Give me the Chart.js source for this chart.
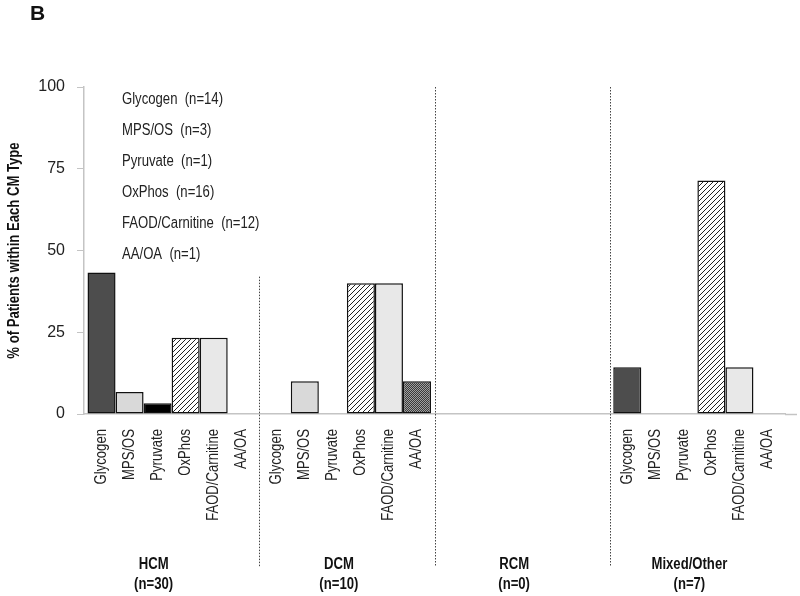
<!DOCTYPE html>
<html>
<head>
<meta charset="utf-8">
<script src="https://cdn.jsdelivr.net/npm/chart.js@4.4.1/dist/chart.umd.min.js"></script>
<style>
  html, body { margin: 0; padding: 0; background: #fff; }
</style>
</head>
<body>
<canvas id="cmChart" width="800" height="596"></canvas>
<script>
// CM types along the x axis and patients in each
const groups = ['HCM', 'DCM', 'RCM', 'Mixed/Other'];
const groupCounts = [30, 10, 0, 7];

// defect classes (one bar each per CM type)
const defects = ['Glycogen', 'MPS/OS', 'Pyruvate', 'OxPhos', 'FAOD/Carnitine', 'AA/OA'];
const defectCounts = [14, 3, 1, 16, 12, 1];

// % of patients within each CM type
const glycogen = [43.3, 0, 0, 14.3];
const mpsOs = [6.7, 10, 0, 0];
const pyruvate = [3.3, 0, 0, 0];
const oxPhos = [23.3, 40, 0, 71.4];
const faodCarnitine = [23.3, 40, 0, 14.3];
const aaOa = [0, 10, 0, 0];

const yTicks = [0, 25, 50, 75, 100];
const yTitle = '% of Patients within Each CM Type';

const FONT = "'Liberation Sans', Arial, sans-serif";
const NARROW = 0.82;   // no narrow face installed, squeeze the text instead

let canvas = document.getElementById('cmChart');
let ctx = canvas.getContext('2d');

function hatchPattern() {
    let c = document.createElement('canvas');
    c.width = 5; c.height = 5;
    let g = c.getContext('2d');
    g.fillStyle = '#fff';
    g.fillRect(0, 0, 5, 5);
    g.strokeStyle = '#222';
    g.lineWidth = 1;
    g.beginPath();
    g.moveTo(0, 5); g.lineTo(5, 0);
    g.moveTo(-1, 1); g.lineTo(1, -1);
    g.moveTo(4, 6); g.lineTo(6, 4);
    g.stroke();
    return ctx.createPattern(c, 'repeat');
}

function ditherPattern() {
    let c = document.createElement('canvas');
    c.width = 2; c.height = 2;
    let g = c.getContext('2d');
    g.fillStyle = '#3a3a3a';
    g.fillRect(0, 0, 2, 2);
    g.fillStyle = '#a0a0a0';
    g.fillRect(0, 0, 1, 1);
    g.fillRect(1, 1, 1, 1);
    return ctx.createPattern(c, 'repeat');
}

const fills = ['#4d4d4d', '#d9d9d9', '#000000', hatchPattern(), '#e8e8e8', ditherPattern()];
const series = [glycogen, mpsOs, pyruvate, oxPhos, faodCarnitine, aaOa];

let datasets = series.map((values, i) => ({
    label: defects[i],
    data: values,
    backgroundColor: fills[i],
    borderColor: '#111',
    borderWidth: 1.5,
    borderSkipped: false,
    categoryPercentage: 0.96,
    barPercentage: 1.0
}));

// squeezed text, optionally rotated
function narrowText(c, text, x, y, angle) {
    c.save();
    c.translate(x, y);
    if (angle) c.rotate(angle);
    c.scale(NARROW, 1);
    c.fillText(text, 0, 0);
    c.restore();
}

// text, separators and the per-bar labels drawn on top of the chart
const annotations = {
    id: 'annotations',
    afterDraw(chart) {
        const c = chart.ctx;
        const area = chart.chartArea;
        const x = chart.scales.x;
        const y = chart.scales.y;
        c.save();

        // panel letter
        c.fillStyle = '#111';
        c.font = 'bold 21px ' + FONT;
        c.textAlign = 'left';
        c.textBaseline = 'alphabetic';
        c.fillText('B', 30, 20);

        // y axis title
        c.font = 'bold 16px ' + FONT;
        c.textAlign = 'center';
        c.textBaseline = 'middle';
        narrowText(c, yTitle, 15, (area.top + area.bottom) / 2, -Math.PI / 2);

        // x axis line runs a bit past the last group
        c.strokeStyle = '#c4c4c4';
        c.lineWidth = 1.5;
        c.beginPath();
        c.moveTo(area.right, area.bottom + 0.5);
        c.lineTo(area.right + 12, area.bottom + 0.5);
        c.stroke();

        // list of defect classes with their totals
        c.font = '16px ' + FONT;
        c.fillStyle = '#222';
        c.textAlign = 'left';
        c.textBaseline = 'middle';
        defects.forEach((d, i) => {
            narrowText(c, d + '  (n=' + defectCounts[i] + ')', area.left + 38, area.top + 13 + i * 31);
        });

        // dotted separators between CM types
        c.strokeStyle = '#444';
        c.lineWidth = 1;
        c.setLineDash([1.5, 1.5]);
        for (let i = 0; i < groups.length - 1; i++) {
            let sx = Math.round((x.getPixelForValue(i) + x.getPixelForValue(i + 1)) / 2) + 0.5;
            let top = i === 0 ? y.getPixelForValue(42) : y.getPixelForValue(100);
            c.beginPath();
            c.moveTo(sx, top);
            c.lineTo(sx, 567);
            c.stroke();
        }
        c.setLineDash([]);

        // rotated defect labels under each bar
        c.font = '16px ' + FONT;
        c.fillStyle = '#222';
        c.textAlign = 'right';
        c.textBaseline = 'middle';
        for (let d = 0; d < defects.length; d++) {
            let meta = chart.getDatasetMeta(d);
            meta.data.forEach((bar, g) => {
                if (groupCounts[g] === 0) return;
                narrowText(c, defects[d], bar.x, area.bottom + 15, -Math.PI / 2);
            });
        }

        // CM type names
        c.font = 'bold 16px ' + FONT;
        c.fillStyle = '#111';
        c.textAlign = 'center';
        groups.forEach((g, i) => {
            let gx = x.getPixelForValue(i) - (i === 0 ? 18 : 8);
            narrowText(c, g, gx, 565);
            narrowText(c, '(n=' + groupCounts[i] + ')', gx, 585);
        });

        c.restore();
    }
};

let chart = new Chart(ctx, {
    type: 'bar',
    data: {
        labels: groups,
        datasets: datasets
    },
    options: {
        responsive: false,
        animation: false,
        devicePixelRatio: 1,
        layout: {
            padding: { top: 87, right: 15, left: 0, bottom: 0 }
        },
        plugins: {
            legend: { display: false },
            tooltip: { enabled: false }
        },
        scales: {
            x: {
                grid: { display: false },
                ticks: { display: false },
                border: { color: '#c4c4c4', width: 1.5 },
                afterFit: s => { s.height = 182; }
            },
            y: {
                min: 0,
                max: 100,
                afterBuildTicks: s => { s.ticks = yTicks.map(v => ({ value: v })); },
                ticks: {
                    color: '#222',
                    padding: 12,
                    font: { family: FONT, size: 16 }
                },
                grid: {
                    drawOnChartArea: false,
                    drawTicks: true,
                    tickLength: 7,
                    color: '#c4c4c4'
                },
                border: { color: '#c4c4c4', width: 1.5 },
                afterFit: s => { s.width = 84; }
            }
        }
    },
    plugins: [annotations]
});
</script>
</body>
</html>
